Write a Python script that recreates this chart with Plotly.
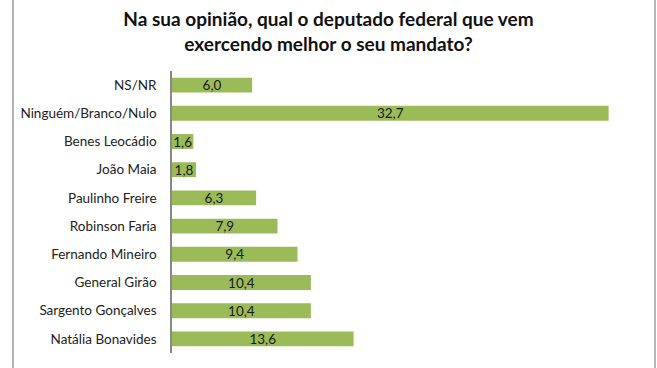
import plotly.graph_objects as go

categories = ["NS/NR", "Ninguém/Branco/Nulo", "Benes Leocádio", "João Maia",
              "Paulinho Freire", "Robinson Faria", "Fernando Mineiro",
              "General Girão", "Sargento Gonçalves", "Natália Bonavides"]
values = [6.0, 32.7, 1.6, 1.8, 6.3, 7.9, 9.4, 10.4, 10.4, 13.6]
value_labels = [f"{v:.1f}".replace(".", ",") for v in values]
title_text = "Na sua opinião, qual o deputado federal que vem<br>exercendo melhor o seu mandato?"

fig = go.Figure(go.Bar(
    y=categories, x=values, orientation="h",
    marker=dict(color="#9BBB59", line=dict(width=0)),
    text=value_labels, textposition="inside", insidetextanchor="middle",
    constraintext="none",
    textfont=dict(family="Lato", size=13.5, color="#1a1a1a"),
    width=0.53,
))

PW, PH = 657 - 172 - 31, 368 - 71 - 15

fig.update_layout(
    width=657, height=368,
    margin=dict(l=172, r=31, t=71, b=15),
    paper_bgcolor="white", plot_bgcolor="white",
    showlegend=False,
    title=dict(text=title_text, x=0.5, xanchor="center", y=1 - 26 / 368, yanchor="middle",
               font=dict(family="Lato", size=19, color="#111111", weight="bold")),
    font=dict(family="Lato", size=13, color="#222222"),
    xaxis=dict(range=[0, 34], visible=False, fixedrange=True),
    yaxis=dict(autorange="reversed", showline=True, linecolor="#888888", linewidth=1.5,
               showgrid=False, ticks="", ticklabelstandoff=11,
               tickfont=dict(family="Lato", size=13.5, color="#222222")),
    shapes=[
        dict(type="line", xref="paper", yref="paper",
             x0=(13 - 172) / PW, x1=(13 - 172) / PW, y0=-15 / PH, y1=(PH + 71) / PH,
             line=dict(color="#b5b5b5", width=2)),
        dict(type="line", xref="paper", yref="paper",
             x0=(655 - 172) / PW, x1=(655 - 172) / PW, y0=-15 / PH, y1=(PH + 71) / PH,
             line=dict(color="#b5b5b5", width=2)),
    ],
)

fig.write_html("out.html", config={"displayModeBar": False},
               post_script="document.body.style.margin='0';document.body.style.padding='0';")
